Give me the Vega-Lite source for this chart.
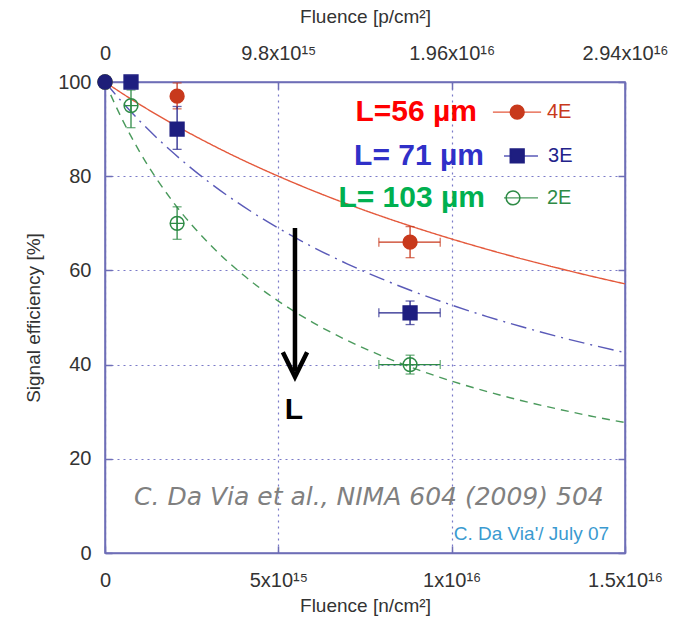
{
  "$schema": "https://vega.github.io/schema/vega-lite/v6.json",
  "width": 520,
  "height": 471,
  "autosize": {"type": "none"},
  "padding": {"left": 105, "top": 82, "right": 49, "bottom": 68},
  "background": "white",
  "config": {
    "view": {"stroke": "#6e6eb6", "strokeWidth": 1.5},
    "axis": {
      "labelFont": "Liberation Sans", "labelFontSize": 20, "labelColor": "#333333",
      "titleFont": "Liberation Sans", "titleFontSize": 19, "titleFontWeight": "normal", "titleColor": "#333333",
      "domainColor": "#6e6eb6", "domainWidth": 1.5, "tickColor": "#6e6eb6", "tickWidth": 1.5,
      "gridColor": "#7a7ac8", "gridDash": [2, 4], "gridWidth": 1.2,
      "labelOverlap": false, "labelFlush": false
    }
  },
  "datasets": {
    "fits": [
      {"f": "4E fit", "x": 0, "y": 100}, {"f": "4E fit", "x": 0.5e15, "y": 97.56}, {"f": "4E fit", "x": 1e15, "y": 95.24},
      {"f": "4E fit", "x": 2e15, "y": 90.91}, {"f": "4E fit", "x": 3e15, "y": 86.96}, {"f": "4E fit", "x": 4e15, "y": 83.33},
      {"f": "4E fit", "x": 5e15, "y": 80.0}, {"f": "4E fit", "x": 6e15, "y": 76.92}, {"f": "4E fit", "x": 7e15, "y": 74.07},
      {"f": "4E fit", "x": 8e15, "y": 71.43}, {"f": "4E fit", "x": 9e15, "y": 68.97}, {"f": "4E fit", "x": 10e15, "y": 66.67},
      {"f": "4E fit", "x": 11e15, "y": 64.52}, {"f": "4E fit", "x": 12e15, "y": 62.5}, {"f": "4E fit", "x": 13e15, "y": 60.61},
      {"f": "4E fit", "x": 14e15, "y": 58.82}, {"f": "4E fit", "x": 15e15, "y": 57.14},
      {"f": "3E fit", "x": 0, "y": 100}, {"f": "3E fit", "x": 0.5e15, "y": 95.69}, {"f": "3E fit", "x": 1e15, "y": 91.74},
      {"f": "3E fit", "x": 2e15, "y": 84.75}, {"f": "3E fit", "x": 3e15, "y": 78.74}, {"f": "3E fit", "x": 4e15, "y": 73.53},
      {"f": "3E fit", "x": 5e15, "y": 68.97}, {"f": "3E fit", "x": 6e15, "y": 64.94}, {"f": "3E fit", "x": 7e15, "y": 61.35},
      {"f": "3E fit", "x": 8e15, "y": 58.14}, {"f": "3E fit", "x": 9e15, "y": 55.25}, {"f": "3E fit", "x": 10e15, "y": 52.63},
      {"f": "3E fit", "x": 11e15, "y": 50.25}, {"f": "3E fit", "x": 12e15, "y": 48.08}, {"f": "3E fit", "x": 13e15, "y": 46.08},
      {"f": "3E fit", "x": 14e15, "y": 44.25}, {"f": "3E fit", "x": 15e15, "y": 42.55},
      {"f": "2E fit", "x": 0, "y": 100}, {"f": "2E fit", "x": 0.5e15, "y": 92.0}, {"f": "2E fit", "x": 1e15, "y": 85.18},
      {"f": "2E fit", "x": 2e15, "y": 74.18}, {"f": "2E fit", "x": 3e15, "y": 65.7}, {"f": "2E fit", "x": 4e15, "y": 58.96},
      {"f": "2E fit", "x": 5e15, "y": 53.48}, {"f": "2E fit", "x": 6e15, "y": 48.92}, {"f": "2E fit", "x": 7e15, "y": 45.09},
      {"f": "2E fit", "x": 8e15, "y": 41.81}, {"f": "2E fit", "x": 9e15, "y": 38.97}, {"f": "2E fit", "x": 10e15, "y": 36.5},
      {"f": "2E fit", "x": 11e15, "y": 34.32}, {"f": "2E fit", "x": 12e15, "y": 32.38}, {"f": "2E fit", "x": 13e15, "y": 30.66},
      {"f": "2E fit", "x": 14e15, "y": 29.1}, {"f": "2E fit", "x": 15e15, "y": 27.7}
    ],
    "points": [
      {"s": "4E", "x": 0, "y": 100},
      {"s": "4E", "x": 2.08e15, "y": 97, "ylo": 94.3, "yhi": 99.8},
      {"s": "4E", "x": 8.8e15, "y": 66, "ylo": 62.7, "yhi": 69.3, "xlo": 7.9e15, "xhi": 9.67e15},
      {"s": "2E", "x": 0, "y": 100},
      {"s": "2E", "x": 0.75e15, "y": 95, "ylo": 90.3, "yhi": 98.3},
      {"s": "2E", "x": 2.08e15, "y": 70, "ylo": 66.6, "yhi": 73.5},
      {"s": "2E", "x": 8.8e15, "y": 40, "ylo": 38, "yhi": 42, "xlo": 7.9e15, "xhi": 9.67e15},
      {"s": "3E", "x": 0.75e15, "y": 100},
      {"s": "3E", "x": 2.08e15, "y": 90, "ylo": 85.7, "yhi": 94.8},
      {"s": "3E", "x": 8.8e15, "y": 51, "ylo": 48.5, "yhi": 53.5, "xlo": 7.9e15, "xhi": 9.67e15},
      {"s": "ref", "x": 0, "y": 100}
    ],
    "legend": [
      {"k": "4E", "f": "4E fit", "x1": 11.19e15, "x2": 12.58e15, "xm": 11.89e15, "xt": 12.75e15, "y": 93.6},
      {"k": "3E", "f": "3E fit", "x1": 11.51e15, "x2": 12.49e15, "xm": 11.89e15, "xt": 12.78e15, "y": 84.3},
      {"k": "2E", "f": "2E fit", "x1": 11.51e15, "x2": 12.49e15, "xm": 11.77e15, "xt": 12.75e15, "y": 75.4}
    ],
    "biglabels": [
      {"k": "4E", "t": "L=56 µm", "x": 10.73e15, "y": 93.6},
      {"k": "3E", "t": "L= 71 µm", "x": 10.93e15, "y": 84.3},
      {"k": "2E", "t": "L= 103 µm", "x": 10.96e15, "y": 75.4}
    ],
    "shaft": [{"x": 5.48e15, "y": 69, "y2": 38.6}],
    "head": [
      {"o": 1, "x": 5.13e15, "y": 42.6},
      {"o": 2, "x": 5.48e15, "y": 37.4},
      {"o": 3, "x": 5.83e15, "y": 42.6}
    ],
    "notes": [
      {"k": "L", "t": "L", "x": 5.45e15, "y": 30.4},
      {"k": "cite", "t": "C. Da Via et al., NIMA 604 (2009) 504", "x": 0.84e15, "y": 10.2},
      {"k": "credit", "t": "C. Da Via'/ July 07", "x": 14.54e15, "y": 2.8}
    ]
  },
  "layer": [
    {
      "data": {"name": "fits"},
      "mark": {"type": "line", "strokeWidth": 1.4, "interpolate": "monotone"},
      "encoding": {
        "x": {"field": "x", "type": "quantitative", "scale": {"domain": [0, 1.5e16], "nice": false, "zero": false},
          "axis": {"orient": "bottom", "title": "Fluence [n/cm²]", "values": [0, 5e15, 1e16, 1.5e16],
            "labelExpr": "datum.value < 1 ? '0' : datum.value < 6e15 ? '5x10¹⁵' : datum.value < 1.2e16 ? '1x10¹⁶' : '1.5x10¹⁶'",
            "grid": true, "ticks": true, "tickSize": -7, "labelPadding": 24, "titlePadding": 6, "domain": true}},
        "y": {"field": "y", "type": "quantitative", "scale": {"domain": [0, 100], "nice": false},
          "axis": {"orient": "left", "title": "Signal efficiency [%]", "values": [0, 20, 40, 60, 80, 100],
            "grid": true, "ticks": true, "tickSize": -7, "labelPadding": 21, "titlePadding": 14}},
        "color": {"field": "f", "type": "nominal", "legend": null,
          "scale": {"domain": ["4E", "3E", "2E", "4E fit", "3E fit", "2E fit"],
            "range": ["#c8391c", "#22228a", "#2e8b46", "#e4593c", "#5a5ab8", "#4a9a5c"]}},
        "strokeDash": {"field": "f", "type": "nominal", "legend": null,
          "scale": {"domain": ["4E fit", "3E fit", "2E fit"], "range": [[1, 0], [16, 6, 2, 6], [8, 6]]}}
      }
    },
    {
      "data": {"name": "points"},
      "transform": [{"filter": "isValid(datum.ylo)"}],
      "mark": {"type": "errorbar", "ticks": {"size": 9}, "thickness": 1.3},
      "encoding": {
        "x": {"field": "x", "type": "quantitative", "scale": {"domain": [0, 1.5e16], "nice": false, "zero": false}, "axis": null},
        "y": {"field": "ylo", "type": "quantitative", "scale": {"domain": [0, 100], "nice": false}, "axis": null},
        "y2": {"field": "yhi"},
        "color": {"field": "s", "type": "nominal", "legend": null}
      }
    },
    {
      "data": {"name": "points"},
      "transform": [{"filter": "isValid(datum.xlo)"}],
      "mark": {"type": "errorbar", "ticks": {"size": 9}, "thickness": 1.3},
      "encoding": {
        "x": {"field": "xlo", "type": "quantitative", "scale": {"domain": [0, 1.5e16], "nice": false, "zero": false}, "axis": null},
        "x2": {"field": "xhi"},
        "y": {"field": "y", "type": "quantitative", "scale": {"domain": [0, 100], "nice": false}, "axis": null},
        "color": {"field": "s", "type": "nominal", "legend": null}
      }
    },
    {
      "data": {"name": "points"},
      "mark": {"type": "point", "size": 190, "strokeWidth": 1.5, "opacity": 1},
      "encoding": {
        "x": {"field": "x", "type": "quantitative", "scale": {"domain": [0, 1.5e16], "nice": false, "zero": false}, "axis": null},
        "y": {"field": "y", "type": "quantitative", "scale": {"domain": [0, 100], "nice": false}, "axis": null},
        "shape": {"field": "s", "type": "nominal", "legend": null,
          "scale": {"domain": ["4E", "3E", "2E", "ref"], "range": ["circle", "square", "circle", "circle"]}},
        "fill": {"field": "s", "type": "nominal", "legend": null,
          "scale": {"domain": ["4E", "3E", "2E", "ref"], "range": ["#c8391c", "#1e1e80", "transparent", "#1e1e78"]}},
        "stroke": {"field": "s", "type": "nominal", "legend": null,
          "scale": {"domain": ["4E", "3E", "2E", "ref"], "range": ["#c8391c", "#1e1e80", "#2e8b46", "#1e1e78"]}}
      }
    },
    {
      "data": {"name": "points"},
      "transform": [{"filter": "datum.s == '2E' && datum.x > 0"}],
      "mark": {"type": "point", "size": 190, "filled": false, "strokeWidth": 1.3, "opacity": 1, "shape": "M-1,0H1M0,-1V1", "color": "#2e8b46"},
      "encoding": {
        "x": {"field": "x", "type": "quantitative", "scale": {"domain": [0, 1.5e16], "nice": false, "zero": false}, "axis": null},
        "y": {"field": "y", "type": "quantitative", "scale": {"domain": [0, 100], "nice": false}, "axis": null}
      }
    },
    {
      "data": {"name": "legend"},
      "mark": {"type": "rule", "strokeWidth": 1.4},
      "encoding": {
        "x": {"field": "x1", "type": "quantitative", "scale": {"domain": [0, 1.5e16], "nice": false, "zero": false}, "axis": null},
        "x2": {"field": "x2"},
        "y": {"field": "y", "type": "quantitative", "scale": {"domain": [0, 100], "nice": false}, "axis": null},
        "color": {"field": "f", "type": "nominal", "legend": null}
      }
    },
    {
      "data": {"name": "legend"},
      "mark": {"type": "point", "size": 190, "strokeWidth": 1.5, "opacity": 1},
      "encoding": {
        "x": {"field": "xm", "type": "quantitative", "scale": {"domain": [0, 1.5e16], "nice": false, "zero": false}, "axis": null},
        "y": {"field": "y", "type": "quantitative", "scale": {"domain": [0, 100], "nice": false}, "axis": null},
        "shape": {"field": "k", "type": "nominal", "legend": null},
        "fill": {"field": "k", "type": "nominal", "legend": null},
        "stroke": {"field": "k", "type": "nominal", "legend": null}
      }
    },
    {
      "data": {"name": "legend"},
      "mark": {"type": "text", "align": "left", "baseline": "middle", "font": "Liberation Sans", "fontSize": 20},
      "encoding": {
        "x": {"field": "xt", "type": "quantitative", "scale": {"domain": [0, 1.5e16], "nice": false, "zero": false}, "axis": null},
        "y": {"field": "y", "type": "quantitative", "scale": {"domain": [0, 100], "nice": false}, "axis": null},
        "text": {"field": "k"},
        "color": {"field": "k", "type": "nominal", "legend": null}
      }
    },
    {
      "data": {"name": "biglabels"},
      "transform": [{"filter": "datum.k == '4E'"}],
      "mark": {"type": "text", "align": "right", "baseline": "middle", "font": "Liberation Sans", "fontWeight": "bold", "fontSize": 30, "color": "#ff0000"},
      "encoding": {
        "x": {"field": "x", "type": "quantitative", "scale": {"domain": [0, 1.5e16], "nice": false, "zero": false}, "axis": null},
        "y": {"field": "y", "type": "quantitative", "scale": {"domain": [0, 100], "nice": false}, "axis": null},
        "text": {"field": "t"}
      }
    },
    {
      "data": {"name": "biglabels"},
      "transform": [{"filter": "datum.k == '3E'"}],
      "mark": {"type": "text", "align": "right", "baseline": "middle", "font": "Liberation Sans", "fontWeight": "bold", "fontSize": 30, "color": "#3030c8"},
      "encoding": {
        "x": {"field": "x", "type": "quantitative", "scale": {"domain": [0, 1.5e16], "nice": false, "zero": false}, "axis": null},
        "y": {"field": "y", "type": "quantitative", "scale": {"domain": [0, 100], "nice": false}, "axis": null},
        "text": {"field": "t"}
      }
    },
    {
      "data": {"name": "biglabels"},
      "transform": [{"filter": "datum.k == '2E'"}],
      "mark": {"type": "text", "align": "right", "baseline": "middle", "font": "Liberation Sans", "fontWeight": "bold", "fontSize": 30, "color": "#00b050"},
      "encoding": {
        "x": {"field": "x", "type": "quantitative", "scale": {"domain": [0, 1.5e16], "nice": false, "zero": false}, "axis": null},
        "y": {"field": "y", "type": "quantitative", "scale": {"domain": [0, 100], "nice": false}, "axis": null},
        "text": {"field": "t"}
      }
    },
    {
      "data": {"name": "shaft"},
      "mark": {"type": "rule", "strokeWidth": 4.5, "color": "black"},
      "encoding": {
        "x": {"field": "x", "type": "quantitative", "scale": {"domain": [0, 1.5e16], "nice": false, "zero": false},
          "axis": {"orient": "top", "title": "Fluence [p/cm²]", "values": [0, 5e15, 1e16, 1.5e16],
            "labelExpr": "datum.value < 1 ? '0' : datum.value < 6e15 ? '9.8x10¹⁵' : datum.value < 1.2e16 ? '1.96x10¹⁶' : '2.94x10¹⁶'",
            "grid": false, "ticks": true, "tickSize": -7, "labelPadding": 26, "titlePadding": 17, "domain": true}},
        "y": {"field": "y", "type": "quantitative", "scale": {"domain": [0, 100], "nice": false},
          "axis": {"orient": "right", "title": null, "labels": false, "values": [0, 20, 40, 60, 80, 100], "grid": false, "ticks": true, "tickSize": -7}},
        "y2": {"field": "y2"}
      }
    },
    {
      "data": {"name": "head"},
      "mark": {"type": "line", "strokeWidth": 4.5, "color": "black", "strokeJoin": "miter", "strokeCap": "butt"},
      "encoding": {
        "x": {"field": "x", "type": "quantitative", "scale": {"domain": [0, 1.5e16], "nice": false, "zero": false}, "axis": null},
        "y": {"field": "y", "type": "quantitative", "scale": {"domain": [0, 100], "nice": false}, "axis": null},
        "order": {"field": "o", "type": "quantitative"}
      }
    },
    {
      "data": {"name": "notes"},
      "transform": [{"filter": "datum.k == 'L'"}],
      "mark": {"type": "text", "align": "center", "baseline": "middle", "font": "Liberation Sans", "fontWeight": "bold", "fontSize": 30, "color": "black"},
      "encoding": {
        "x": {"field": "x", "type": "quantitative", "scale": {"domain": [0, 1.5e16], "nice": false, "zero": false}, "axis": null},
        "y": {"field": "y", "type": "quantitative", "scale": {"domain": [0, 100], "nice": false}, "axis": null},
        "text": {"field": "t"}
      }
    },
    {
      "data": {"name": "notes"},
      "transform": [{"filter": "datum.k == 'cite'"}],
      "mark": {"type": "text", "align": "left", "baseline": "alphabetic", "font": "DejaVu Sans", "fontStyle": "italic", "fontSize": 25, "color": "#808080"},
      "encoding": {
        "x": {"field": "x", "type": "quantitative", "scale": {"domain": [0, 1.5e16], "nice": false, "zero": false}, "axis": null},
        "y": {"field": "y", "type": "quantitative", "scale": {"domain": [0, 100], "nice": false}, "axis": null},
        "text": {"field": "t"}
      }
    },
    {
      "data": {"name": "notes"},
      "transform": [{"filter": "datum.k == 'credit'"}],
      "mark": {"type": "text", "align": "right", "baseline": "alphabetic", "font": "Liberation Sans", "fontSize": 19, "color": "#3a9ad0"},
      "encoding": {
        "x": {"field": "x", "type": "quantitative", "scale": {"domain": [0, 1.5e16], "nice": false, "zero": false}, "axis": null},
        "y": {"field": "y", "type": "quantitative", "scale": {"domain": [0, 100], "nice": false}, "axis": null},
        "text": {"field": "t"}
      }
    }
  ],
  "resolve": {"axis": {"x": "independent", "y": "independent"}}
}
